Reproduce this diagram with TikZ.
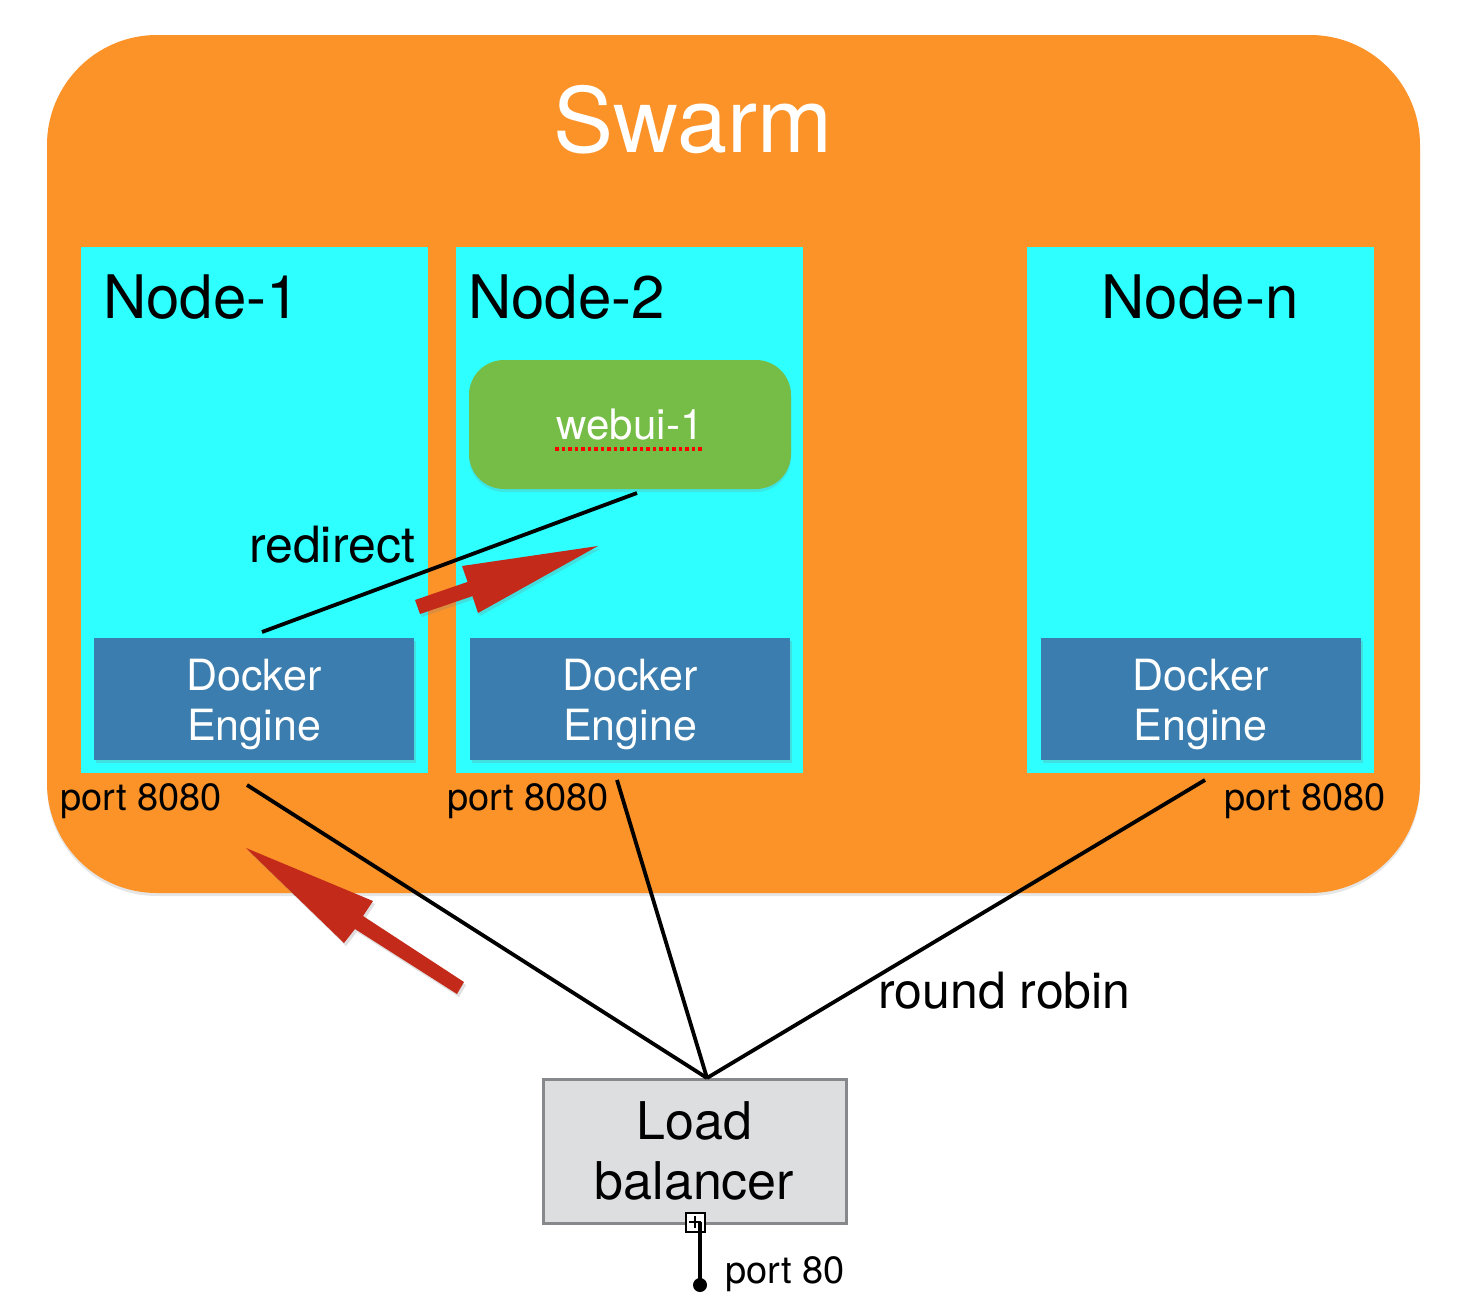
\documentclass[tikz,border=0pt]{standalone}
\usepackage{fontspec}
\setmainfont{TeX Gyre Heros}
\usepackage{tikz}
\usetikzlibrary{positioning,arrows.meta,shadows}

\definecolor{swarmorange}{RGB}{251,147,41}
\definecolor{hostcyan}{RGB}{46,255,255}
\definecolor{webgreen}{RGB}{118,189,71}
\definecolor{engineblue}{RGB}{58,125,174}
\definecolor{flowred}{RGB}{196,42,26}
\definecolor{lbgray}{RGB}{221,222,224}
\definecolor{lbborder}{RGB}{134,136,139}

\begin{document}
\begin{tikzpicture}[ % GLOBAL CFG
    x=1pt, y=-1pt,
    % Styles
    swarm/.style={% For the big cluster box
        rectangle,
        rounded corners=110pt,
        fill=swarmorange,
        inner sep=0pt,
        minimum width=1373pt,
        minimum height=858pt,
        drop shadow={opacity=0.2, shadow xshift=0pt, shadow yshift=-3pt},
        },
    host/.style={% For the swarm nodes
        rectangle,
        fill=hostcyan,
        inner sep=0pt,
        minimum width=347pt,
        minimum height=526pt,
        },
    engine/.style={% For the docker engines
        rectangle,
        fill=engineblue,
        text=white,
        align=center,
        inner sep=0pt,
        minimum width=320pt,
        minimum height=122pt,
        font=\fontsize{43}{50}\selectfont,
        drop shadow={opacity=0.25, shadow xshift=2pt, shadow yshift=-3pt},
        },
    container/.style={% For the running service
        rectangle,
        rounded corners=35pt,
        fill=webgreen,
        text=white,
        inner sep=0pt,
        minimum width=322pt,
        minimum height=129pt,
        font=\fontsize{42}{48}\selectfont,
        drop shadow={opacity=0.2, shadow xshift=0pt, shadow yshift=-3pt},
        },
    balancer/.style={% For the load balancer
        rectangle,
        draw=lbborder,
        line width=3pt,
        fill=lbgray,
        align=center,
        inner sep=0pt,
        minimum width=303pt,
        minimum height=144pt,
        font=\fontsize{52}{60}\selectfont,
        },
    title/.style={font=\fontsize{60}{70}\selectfont, inner sep=0pt},
    port/.style={font=\fontsize{38}{44}\selectfont, inner sep=0pt, anchor=base west},
    mylabel/.style={font=\fontsize{50}{58}\selectfont, inner sep=0pt, anchor=base west},
    link/.style={% Plain black connections
        line width=3.8pt,
        },
    bigarrow/.style={% Red flow arrows
        fill=flowred,
        drop shadow={opacity=0.25, shadow xshift=2pt, shadow yshift=-3pt},
        },
    ]

    \useasboundingbox (0,0) rectangle (1460,1312);

    % Swarm
    \node [swarm] (swarm) at (733.5,464) {};
    \node [text=white, font=\fontsize{90}{100}\selectfont, inner sep=0pt, anchor=base] (swarmlabel) at (693,152) {Swarm};

    % Nodes
    \node [host] (node1) at (254.5,510) {};
    \node [host] (node2) at (629.5,510) {};
    \node [host] (noden) at (1200.5,510) {};
    \node [title, anchor=base west] (node1label) at (103,318) {Node-1};
    \node [title, anchor=base west] (node2label) at (468,318) {Node-2};
    \node [title, anchor=base] (nodenlabel) at (1200,318) {Node-n};

    % Engines
    \node [engine] (eng1) at (254,699) {\rule{0pt}{43pt}Docker\\Engine};
    \node [engine] (eng2) at (630,699) {\rule{0pt}{43pt}Docker\\Engine};
    \node [engine] (engn) at (1200.5,699) {\rule{0pt}{43pt}Docker\\Engine};

    % Container
    \node [container] (webui) at (630,424.5) {webui-1};
    \draw [red, line width=3.5pt, dash pattern=on 3.5pt off 3pt] (555,449) -- (703,449);

    % Ports
    \node [port] (port1) at (60,810) {port 8080};
    \node [port] (port2) at (447,810) {port 8080};
    \node [port] (portn) at (1224,810) {port 8080};

    % Load balancer
    \node [balancer] (lb) at (694.5,1151) {Load\\balancer};
    \node [rectangle, draw, fill=white, line width=2pt, minimum size=19pt, inner sep=0pt] (lbport) at (695,1222) {};
    \draw [line width=1.5pt] (lbport.center) ++(-6,0) -- ++(12,0) (lbport.center) ++(0,-6) -- ++(0,12);
    \node [circle, fill, minimum size=14pt, inner sep=0pt] (lbdot) at (700,1285) {};
    \draw [link] (lbdot.center) -- (lbdot |- lbport.center);
    \node [port] (port80) at (725,1283) {port 80};

    % Round robin
    \coordinate (in1) at (247,785);
    \coordinate (in2) at (617,780);
    \coordinate (inn) at (1205,780);
    \coordinate (lbin) at (707,1078);
    \draw [link] (in1) -- (lbin);
    \draw [link] (in2) -- (lbin);
    \draw [link] (inn) -- (lbin);
    \node [mylabel] (rr) at (878,1008) {round robin};

    % Redirect
    \coordinate (rd1) at (262,632);
    \coordinate (rd2) at (637,493);
    \draw [link] (rd1) -- (rd2);
    \node [mylabel] (redirect) at (249,562) {redirect};

    % Red arrows
    \fill [bigarrow] (415,600) -- (467.6,581.9) -- (462,566) -- (598,546) -- (478,613) -- (472.4,596.1) -- (420,614) -- cycle;
    \fill [bigarrow] (246,848) -- (373,901) -- (363,916) -- (464,982) -- (457,994) -- (355,929) -- (344,943) -- cycle;

\end{tikzpicture}
\end{document}
